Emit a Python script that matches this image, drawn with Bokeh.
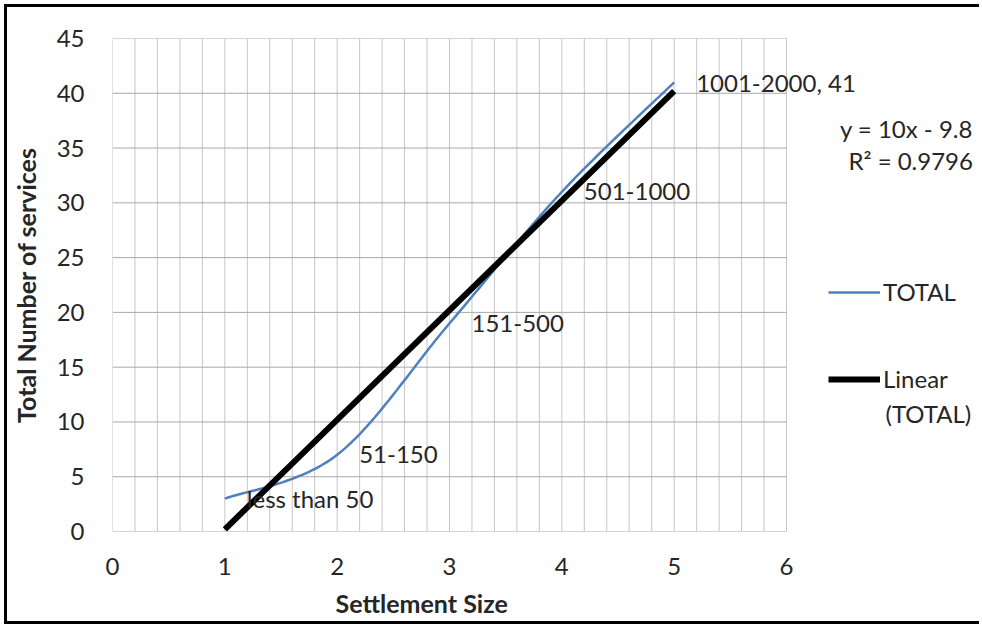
import numpy as np
from bokeh.plotting import figure
from bokeh.models import (ColumnDataSource, SingleIntervalTicker, Legend, LegendItem,
                          Label, Range1d, Title)
from bokeh.core.properties import value
from bokeh.embed import file_html
from bokeh.resources import INLINE

# Settlement size class (1..5) vs. total number of services
size_class = [1, 2, 3, 4, 5]
services = [3, 7, 19, 31, 41]
point_labels = ["less than 50", "51-150", "151-500", "501-1000", "1001-2000, 41"]

# axis extents of the plotting area
x_min, x_max, x_step, x_minor = 0, 6, 1, 0.2
y_min, y_max, y_step = 0, 45, 5

FONT = "Lato"
TEXT = "#262626"
FS = "24px"

# Smoothed curve through the points (Catmull-Rom as cubic Bezier segments)
def smooth(xs, ys, n=40):
    xs = np.asarray(xs, float)
    ys = np.asarray(ys, float)
    px = np.concatenate([[xs[0]], xs, [xs[-1]]])
    py = np.concatenate([[ys[0]], ys, [ys[-1]]])
    out_x, out_y = [], []
    t = np.linspace(0, 1, n)
    for i in range(1, len(px) - 2):
        p0 = np.array([px[i], py[i]])
        p3 = np.array([px[i + 1], py[i + 1]])
        c1 = p0 + (np.array([px[i + 1], py[i + 1]]) - np.array([px[i - 1], py[i - 1]])) / 6
        c2 = p3 - (np.array([px[i + 2], py[i + 2]]) - np.array([px[i], py[i]])) / 6
        b = ((1 - t) ** 3)[:, None] * p0 + (3 * (1 - t) ** 2 * t)[:, None] * c1 \
            + (3 * (1 - t) * t ** 2)[:, None] * c2 + (t ** 3)[:, None] * p3
        out_x.extend(b[:, 0])
        out_y.extend(b[:, 1])
    return out_x, out_y

cx, cy = smooth(size_class, services)

# Least-squares trend line
slope, intercept = np.polyfit(size_class, services, 1)
r2 = np.corrcoef(size_class, services)[0, 1] ** 2
tx = [size_class[0], size_class[-1]]
ty = [slope * v + intercept for v in tx]

# The frame runs past x=6 so that the legend, the equation and the last
# point label can sit to the right of the gridded area without clipping.
W, H = 975, 620
ML, MT, MB = 105, 31, 96
unit_px = 674 / (x_max - x_min)
frame_w = W - ML
p = figure(width=W, height=H, output_backend="svg", toolbar_location=None,
           x_range=Range1d(x_min, x_min + frame_w / unit_px),
           y_range=Range1d(y_min, y_max),
           min_border_left=ML, min_border_right=0, min_border_top=MT,
           min_border_bottom=MB)
p.styles = {"border-top": "3px solid black", "border-left": "3px solid black",
            "border-bottom": "3px solid black", "margin-top": "4px",
            "margin-left": "4px"}
p.background_fill_color = "white"
p.border_fill_color = "white"
p.outline_line_color = None
p.grid.visible = False

p.xaxis.ticker = SingleIntervalTicker(interval=x_step, num_minor_ticks=0)
p.yaxis.ticker = SingleIntervalTicker(interval=y_step, num_minor_ticks=0)
p.xaxis.bounds = (x_min, x_max)
for ax in (p.xaxis[0], p.yaxis[0]):
    ax.axis_line_color = None
    ax.major_tick_line_color = None
    ax.minor_tick_line_color = None
    ax.major_label_text_font = FONT
    ax.major_label_text_font_size = FS
    ax.major_label_text_color = TEXT
    ax.axis_label_text_font = FONT
    ax.axis_label_text_font_size = "25px"
    ax.axis_label_text_font_style = "bold"
    ax.axis_label_text_color = TEXT

p.yaxis.axis_label = "Total Number of services"
p.xaxis.major_label_standoff = 20
p.yaxis.major_label_standoff = 22
p.yaxis.axis_label_standoff = 13

# x-axis title, centred under the gridded part of the frame
p.add_layout(Title(text="Settlement Size", align="left", offset=223, standoff=16,
                   text_font=FONT, text_font_size="25px", text_font_style="bold",
                   text_color=TEXT), "below")

# gridlines of the plotting area
gx = np.arange(x_min, x_max + 1e-9, x_minor)
gy = np.arange(y_min, y_max + 1e-9, y_step)
p.segment(x0=gx, y0=y_min, x1=gx, y1=y_max, line_color="#c6c6c6", line_width=1)
p.segment(x0=x_min, y0=gy, x1=x_max, y1=gy, line_color="#a9a9a9", line_width=1)

curve = p.line(cx, cy, line_color="#4F81BD", line_width=2.5)
trend = p.line(tx, ty, line_color="black", line_width=6)

src = ColumnDataSource(dict(x=size_class, y=services, t=point_labels))
p.text("x", "y", text="t", source=src, x_offset=22, text_baseline="middle",
       text_align="left", text_font=value(FONT), text_font_size=FS,
       text_color=TEXT)

eq = Label(x=7.66, y=35.3,
           text=f"y = {slope:.0f}x - {abs(intercept):.1f}\nR² = {r2:.4f}",
           text_align="right", text_baseline="middle", text_font=FONT,
           text_font_size=FS, text_color=TEXT, text_line_height=1.12)
p.add_layout(eq)

legend = Legend(items=[LegendItem(label="TOTAL", renderers=[curve]),
                       LegendItem(label="Linear", renderers=[trend])],
                location=(716, 138), glyph_width=52, label_standoff=3,
                label_text_font=FONT, label_text_font_size=FS,
                label_text_color=TEXT, border_line_color=None,
                background_fill_alpha=0, padding=0, margin=0, spacing=58)
p.add_layout(legend, "center")
# second line of the trend-line legend entry
p.add_layout(Label(x=773, y=118, x_units="screen", y_units="screen",
                   text="(TOTAL)", text_baseline="middle", text_font=FONT,
                   text_font_size=FS, text_color=TEXT))

open("out.html", "w").write(file_html(p, INLINE))
